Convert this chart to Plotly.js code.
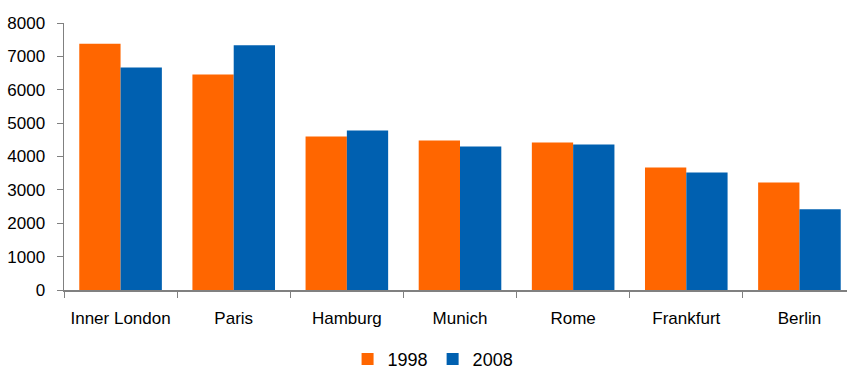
<!DOCTYPE html>
<html>
<head>
<meta charset="utf-8">
<script src="https://cdn.plot.ly/plotly-3.0.1.min.js"></script>
<style>
html,body{margin:0;padding:0;overflow:hidden;background:#fff;}
#chart{width:860px;height:371px;}
</style>
</head>
<body>
<div id="chart"></div>
<script>
const cities = ["Inner London", "Paris", "Hamburg", "Munich", "Rome", "Frankfurt", "Berlin"];
const values1998 = [7380, 6460, 4600, 4480, 4420, 3670, 3220];
const values2008 = [6670, 7330, 4780, 4300, 4360, 3520, 2420];
const yTicks = [0, 1000, 2000, 3000, 4000, 5000, 6000, 7000, 8000];

const font = {family: "Liberation Sans, Arial, sans-serif", size: 17, color: "#000"};

const traces = [
  {type: "bar", name: "1998", x: cities, y: values1998, marker: {color: "#FF6600"}},
  {type: "bar", name: "2008", x: cities, y: values2008, marker: {color: "#0060B0"}}
];

const layout = {
  width: 860, height: 371,
  margin: {l: 64, r: 4, t: 23, b: 81, autoexpand: false},
  barmode: "group",
  bargap: 0.27,
  bargroupgap: 0,
  paper_bgcolor: "#fff",
  plot_bgcolor: "#fff",
  font: font,
  showlegend: true,
  legend: {orientation: "h", x: 0.466, xanchor: "center", y: -0.19, yanchor: "top",
           font: {family: font.family, size: 18, color: "#000"}, itemwidth: 30, traceorder: "normal"},
  xaxis: {
    showline: true, linecolor: "#808080", linewidth: 1.5,
    ticks: "outside", ticklen: 6, tickcolor: "#808080", tickson: "boundaries",
    showgrid: false, zeroline: false, ticklabelstandoff: 12,
    tickfont: font
  },
  yaxis: {
    range: [0, 8000], tickvals: yTicks, ticktext: yTicks.map(String),
    showline: true, linecolor: "#808080", linewidth: 1.5,
    ticks: "outside", ticklen: 6, tickcolor: "#808080",
    showgrid: false, zeroline: false, ticklabelstandoff: 8,
    tickfont: font
  }
};

Plotly.newPlot("chart", traces, layout, {displayModeBar: false, staticPlot: true});
</script>
</body>
</html>
